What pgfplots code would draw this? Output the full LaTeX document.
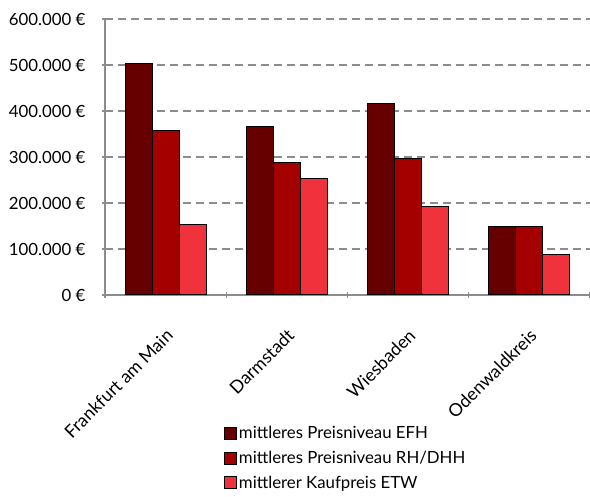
\documentclass[border=0pt]{standalone}
\usepackage{fontspec}
\setmainfont{Lato}
\usepackage{pgfplots}
\pgfplotsset{compat=1.18}

\definecolor{efh}{HTML}{660000}
\definecolor{rhdhh}{HTML}{A50000}
\definecolor{etw}{HTML}{F0323C}
\definecolor{axisgray}{HTML}{8C8C8C}

\newcommand{\chartfont}{\fontsize{16.8}{19}\selectfont}

\begin{document}
\begin{tikzpicture}
\useasboundingbox (-105pt,-202pt) rectangle (485pt,295pt);
\begin{axis}[
  scale only axis,
  width=485pt, height=276pt,
  ybar=0pt, bar width=27pt,
  every axis plot post/.append style={
    legend image code/.code={
      \draw[##1, draw=black, line width=0.8pt] (0pt,-6pt) rectangle (12pt,6pt);}},
  xmin=-0.5, xmax=3.5,
  ymin=0, ymax=600000,
  ytick={0,100000,...,600000},
  scaled y ticks=false,
  yticklabel={\pgfmathprintnumber[fixed,precision=0,1000 sep={.},assume math mode=true]{\tick}~€},
  xtick={0,1,2,3},
  xticklabels={Frankfurt am Main,Darmstadt,Wiesbaden,Odenwaldkreis},
  minor xtick={-0.5,0.5,1.5,2.5,3.5},
  major x tick style={draw=none},
  minor tick length=6pt,
  major tick length=6pt,
  tick align=outside,
  tick style={axisgray, line width=1.2pt},
  axis x line=bottom, axis y line=left,
  axis line style={-, axisgray, line width=1.6pt},
  ymajorgrids,
  grid style={axisgray, line width=1.2pt, dash pattern=on 8pt off 5pt},
  every tick label/.append style={font=\chartfont, text=black},
  xticklabel style={rotate=45, anchor=north east, xshift=-18pt, yshift=-17pt,
    font=\fontsize{17.8}{20}\selectfont},
  yticklabel style={xshift=-13pt},
  legend style={at={(0,0)}, anchor=north west, xshift=116pt, yshift=-127pt,
    draw=none, fill=none, font=\chartfont,
    row sep=7pt, cells={anchor=west},
    nodes={inner xsep=2pt}},
  legend cell align=left,
]
\addplot[fill=efh, draw=black, line width=1pt]
  coordinates {(0,503000) (1,366000) (2,417000) (3,148000)};
\addplot[fill=rhdhh, draw=black, line width=1pt]
  coordinates {(0,357000) (1,288000) (2,296000) (3,149000)};
\addplot[fill=etw, draw=black, line width=1pt]
  coordinates {(0,154000) (1,254000) (2,192000) (3,88000)};
\legend{mittleres Preisniveau EFH,mittleres Preisniveau RH/DHH,mittlerer Kaufpreis ETW}
\end{axis}
\end{tikzpicture}
\end{document}
